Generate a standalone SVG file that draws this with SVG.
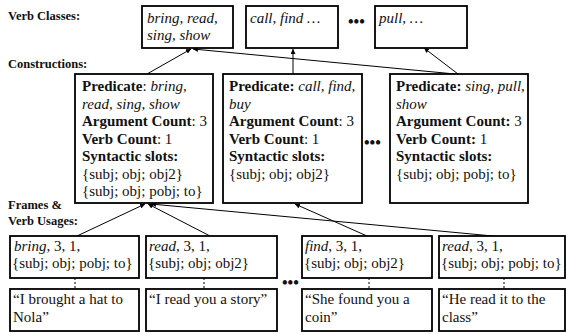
<svg xmlns="http://www.w3.org/2000/svg" width="566" height="334" viewBox="0 0 566 334" font-family="'Liberation Serif', Tinos, 'Times New Roman', Times, 'DejaVu Serif', serif">
<defs>
<marker id="ah" viewBox="0 0 10 10" refX="10" refY="5" markerWidth="5" markerHeight="5" orient="auto" markerUnits="userSpaceOnUse">
<path d="M0,0 L10,5 L0,10 z" fill="#000"/>
</marker>
<style>
text{fill:#111}
.lbl{font-weight:bold;font-size:12.5px}
.box{fill:#fff;stroke:#000;stroke-width:1.8}
.c{font-size:15px}
.f{font-size:15px}
.v{font-size:15px;font-style:italic}
.b{font-weight:bold}
.i{font-style:italic}
.con{stroke:#000;stroke-width:1;fill:none;marker-end:url(#ah)}
.dash{stroke:#000;stroke-width:1;stroke-dasharray:2,2;fill:none}
.dots{font-size:16px;font-weight:bold}
</style>
</defs>
<rect width="566" height="334" fill="#fff"/>
<g id="labels">
<text class="lbl" x="8" y="20">Verb Classes:</text>
<text class="lbl" x="8" y="68">Constructions:</text>
<text class="lbl" x="8" y="209">Frames &amp;</text>
<text class="lbl" x="8" y="225">Verb Usages:</text>
</g>
<g id="connectors">
<line class="con" x1="147" y1="74" x2="191" y2="49"/>
<line class="con" x1="293" y1="74" x2="293" y2="49"/>
<line class="con" x1="455" y1="74" x2="193" y2="49"/>
<line class="con" x1="458" y1="74" x2="424" y2="48"/>
<line class="con" x1="77" y1="236" x2="145" y2="204"/>
<line class="con" x1="210" y1="236" x2="148" y2="204"/>
<line class="con" x1="493" y1="236" x2="151" y2="204"/>
<line class="con" x1="367" y1="236" x2="295" y2="204"/>
<line class="dash" x1="75" y1="278" x2="75" y2="289"/>
<line class="dash" x1="204" y1="278" x2="204" y2="289"/>
<line class="dash" x1="369" y1="278" x2="369" y2="289"/>
<line class="dash" x1="504" y1="278" x2="504" y2="289"/>
</g>
<g id="vc1">
<rect class="box" x="142" y="6" width="91" height="42"/>
<text class="v" x="147" y="23">bring, read,</text>
<text class="v" x="147" y="40">sing, show</text>
</g>
<g id="vc2">
<rect class="box" x="246" y="6" width="92" height="42"/>
<text class="v" x="250" y="23">call, find …</text>
</g>
<text class="dots" x="348" y="27">•••</text>
<g id="vc3">
<rect class="box" x="375" y="6" width="92" height="42"/>
<text class="v" x="379" y="23">pull, …</text>
</g>
<g id="cx1">
<rect class="box" x="75" y="74" width="138" height="129"/>
<text class="c" x="82" y="91"><tspan class="b">Predicate</tspan>: <tspan class="i">bring,</tspan></text>
<text class="c i" x="82" y="108.5">read, sing, show</text>
<text class="c" x="82" y="126"><tspan class="b">Argument Count</tspan>: 3</text>
<text class="c" x="82" y="143.5"><tspan class="b">Verb Count</tspan>: 1</text>
<text class="c b" x="82" y="161">Syntactic slots:</text>
<text class="c" x="82" y="178.5">{subj; obj; obj2}</text>
<text class="c" x="82" y="196">{subj; obj; pobj; to}</text>
</g>
<g id="cx2">
<rect class="box" x="223" y="74" width="139" height="129"/>
<text class="c" x="229" y="91"><tspan class="b">Predicate:</tspan> <tspan class="i">call, find,</tspan></text>
<text class="c i" x="229" y="108.5">buy</text>
<text class="c" x="229" y="126"><tspan class="b">Argument Count</tspan>: 3</text>
<text class="c" x="229" y="143.5"><tspan class="b">Verb Count</tspan>: 1</text>
<text class="c b" x="229" y="161">Syntactic slots:</text>
<text class="c" x="229" y="178.5">{subj; obj; obj2}</text>
</g>
<text class="dots" x="364" y="148">•••</text>
<g id="cx3">
<rect class="box" x="390" y="74" width="138" height="129"/>
<text class="c" x="396" y="91"><tspan class="b">Predicate:</tspan> <tspan class="i">sing, pull,</tspan></text>
<text class="c i" x="396" y="108.5">show</text>
<text class="c" x="396" y="126"><tspan class="b">Argument Count:</tspan> 3</text>
<text class="c" x="396" y="143.5"><tspan class="b">Verb Count:</tspan> 1</text>
<text class="c b" x="396" y="161">Syntactic slots:</text>
<text class="c" x="396" y="178.5">{subj; obj; pobj; to}</text>
</g>
<g id="fr1">
<rect class="box" x="10" y="236" width="129" height="42"/>
<text class="f" x="14" y="251"><tspan class="i">bring</tspan>, 3, 1,</text>
<text class="f" x="12" y="268">{subj; obj; pobj; to}</text>
</g>
<g id="fr2">
<rect class="box" x="146" y="236" width="131" height="42"/>
<text class="f" x="149" y="251"><tspan class="i">read</tspan>, 3, 1,</text>
<text class="f" x="148" y="268">{subj; obj; obj2}</text>
</g>
<text class="dots" x="282" y="288">•••</text>
<g id="fr3">
<rect class="box" x="302" y="236" width="130" height="42"/>
<text class="f" x="305" y="251"><tspan class="i">find</tspan>, 3, 1,</text>
<text class="f" x="304" y="268">{subj; obj; obj2}</text>
</g>
<g id="fr4">
<rect class="box" x="439" y="236" width="126" height="42"/>
<text class="f" x="442" y="251"><tspan class="i">read</tspan>, 3, 1,</text>
<text class="f" x="441" y="268">{subj; obj; pobj; to}</text>
</g>
<g id="ex1">
<rect class="box" x="10" y="289" width="129" height="42"/>
<text class="f" x="13" y="304">“I brought a hat to</text>
<text class="f" x="13" y="322">Nola”</text>
</g>
<g id="ex2">
<rect class="box" x="146" y="289" width="131" height="42"/>
<text class="f" x="149" y="304">“I read you a story”</text>
</g>
<g id="ex3">
<rect class="box" x="302" y="289" width="130" height="42"/>
<text class="f" x="305" y="304">“She found you a</text>
<text class="f" x="305" y="322">coin”</text>
</g>
<g id="ex4">
<rect class="box" x="439" y="289" width="126" height="42"/>
<text class="f" x="442" y="304">“He read it to the</text>
<text class="f" x="442" y="322">class”</text>
</g>
</svg>
